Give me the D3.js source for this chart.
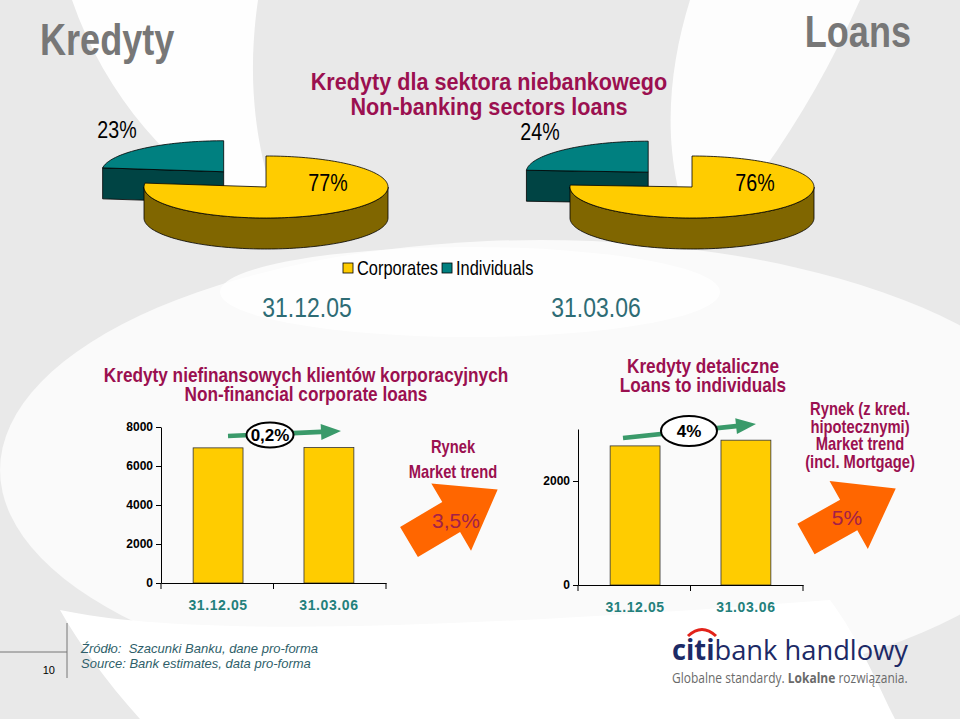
<!DOCTYPE html>
<html><head><meta charset="utf-8">
<script src="https://cdn.jsdelivr.net/npm/d3@7/dist/d3.min.js"></script>
<style>html,body{margin:0;padding:0;background:#fff}svg{display:block}</style>
</head><body>
<svg id="c" width="960" height="719"></svg>
<script>
// ---------- DATA ----------
const pieDates = ["31.12.05", "31.03.06"];
const pieCategories = ["Corporates", "Individuals"];
const pieShares2005 = [77, 23];
const pieShares2006 = [76, 24];
const barCategories = ["31.12.05", "31.03.06"];
const corporateLoans = [6930, 6945];
const individualLoans = [2675, 2785];
const corporateTicks = [0, 2000, 4000, 6000, 8000];
const individualTicks = [0, 2000];
const growthLabels = ["0,2%", "4%"];
const marketLabels = ["3,5%", "5%"];

// ---------- FONTS ----------
const ARIAL = "'Liberation Sans', Arial, sans-serif";
const NSCALE = 0.82; // emulate Arial Narrow by horizontal compression
const svg = d3.select("#c");
const MAROON = "#9b1050", DATE = "#2e6c75", XLAB = "#23807c", YEL = "#FFCC00", YEL_D = "#806600",
      TEAL = "#008080", TEAL_D = "#004444", GREEN = "#3a9a6a", ORANGE = "#FF6600";

function ntext(parent, x, y, str, o={}){
  const g = parent.append("g").attr("transform",`translate(${x},${y}) scale(${o.sx||NSCALE},1)`);
  const t = g.append("text").attr("x",0).attr("y",0).attr("font-family",ARIAL)
    .attr("font-size",o.size||16).attr("font-weight",o.weight||"normal").attr("fill",o.fill||"#000")
    .attr("text-anchor",o.anchor||"start").text(str);
  return t;
}

// ---------- BACKGROUND ----------
const bg = svg.append("g");
bg.append("rect").attr("width",960).attr("height",719).attr("fill","#e9e9e9");
bg.append("path").attr("fill","#fff").attr("opacity",0.95)
  .attr("d","M72,0 L258,0 C248,70 250,150 290,240 C190,190 110,110 72,0 Z");
bg.append("path").attr("fill","#fff").attr("opacity",0.9)
  .attr("d","M690,0 L860,0 C820,90 770,170 700,250 C660,170 665,80 690,0 Z");
bg.append("ellipse").attr("cx",540).attr("cy",470).attr("rx",540).attr("ry",230).attr("fill","#fff").attr("opacity",0.75);
bg.append("path").attr("fill","#fff")
  .attr("d","M60,610 C200,640 500,625 830,600 C860,640 880,690 895,719 L140,719 C105,680 80,645 60,610 Z");
bg.append("ellipse").attr("cx",470).attr("cy",292).attr("rx",250).attr("ry",45).attr("fill","#fff").attr("opacity",0.8);

// ---------- HEADINGS ----------
ntext(svg, 40, 55, "Kredyty", {size:44, weight:"bold", fill:"#777"});
ntext(svg, 911, 47, "Loans", {size:44, weight:"bold", fill:"#777", anchor:"end"});
ntext(svg, 489, 90, "Kredyty dla sektora niebankowego", {size:24, sx:0.9, weight:"bold", fill:MAROON, anchor:"middle"});
ntext(svg, 489, 115, "Non-banking sectors loans", {size:24, sx:0.9, weight:"bold", fill:MAROON, anchor:"middle"});

// ---------- 3D PIES ----------
const RX = 122, RY = 31, DEPTH = 31, EXPLODE = 64;
const pieGen = d3.pie().sort(null).value(d => d);
function pt(cx, cy, a, dy=0){ return [cx + RX*Math.sin(a), cy - RY*Math.cos(a) + dy]; }
function arcPts(cx, cy, a0, a1, dy=0){
  const n = Math.max(2, Math.ceil((a1-a0)/0.03)); const out=[];
  for(let i=0;i<=n;i++){ out.push(pt(cx,cy,a0+(a1-a0)*i/n,dy)); } return out;
}
const line = d3.line();
function draw3dPie(g, cx, cy, shares, labelOffsets){
  const arcs = pieGen(shares);
  const tops=[YEL, TEAL], sides=[YEL_D, TEAL_D];
  [1, 0].forEach(i => {
    const a = arcs[i];
    let ox=0, oy=0;
    if(i===1){ const m=(a.startAngle+a.endAngle)/2; ox=EXPLODE*Math.sin(m); oy=-EXPLODE*Math.cos(m)*RY/RX*1.25; }
    const x=cx+ox, y=cy+oy;
    const sg = g.append("g").attr("stroke","#000").attr("stroke-width",0.8).attr("stroke-linejoin","round");
    [[a.startAngle, Math.sin(a.startAngle) < -1e-6],[a.endAngle, Math.sin(a.endAngle) > 1e-6]].forEach(([ang,vis])=>{
      if(!vis) return;
      const r = pt(x,y,ang);
      sg.append("path").attr("fill",sides[i])
        .attr("d", line([[x,y],r,[r[0],r[1]+DEPTH],[x,y+DEPTH]])+"Z");
    });
    const s=Math.max(a.startAngle,Math.PI/2), e=Math.min(a.endAngle,3*Math.PI/2);
    if(s<e){
      const p = arcPts(x,y,s,e).concat(arcPts(x,y,s,e,DEPTH).reverse());
      sg.append("path").attr("fill",sides[i]).attr("d",line(p)+"Z");
    }
    sg.append("path").attr("fill",tops[i]).attr("d", line([[x,y]].concat(arcPts(x,y,a.startAngle,a.endAngle)))+"Z");
  });
  arcs.forEach((a,i)=>{
    ntext(g, cx+labelOffsets[i][0], cy+labelOffsets[i][1], a.data+"%", {size:24, anchor:"middle"});
  });
}
draw3dPie(svg.append("g"), 266, 187, pieShares2005, [[62,4],[-149,-49]]);
draw3dPie(svg.append("g"), 692, 187, pieShares2006, [[63,4],[-152,-47]]);

// legend
const lg = svg.append("g").attr("transform","translate(343,263)");
let lx = 0;
pieCategories.forEach((c,i)=>{
  lg.append("rect").attr("x",lx).attr("y",0).attr("width",10).attr("height",10).attr("fill",[YEL,TEAL][i]).attr("stroke","#000").attr("stroke-width",0.8);
  const tx = ntext(lg, lx+14, 12, c, {size:20});
  lx += 14 + tx.node().getComputedTextLength()*NSCALE + 4;
});
// pie dates
[[307,pieDates[0]],[596,pieDates[1]]].forEach(([x,t])=>{
  ntext(svg, x, 317, t, {size:28, fill:DATE, anchor:"middle"});
});

// ---------- BAR CHARTS ----------
function barChart(opt){
  const g = svg.append("g");
  const x = d3.scaleBand().domain(barCategories).range([opt.x0, opt.x1]).paddingInner(0.55).paddingOuter(0.29);
  const y = d3.scaleLinear().domain([0, opt.ymax]).range([opt.yb, opt.yt]);
  opt.title.forEach((l,i)=> ntext(g, opt.titleX, opt.titleY+i*19, l, {size:21, weight:"bold", fill:MAROON, anchor:"middle"}));
  // y axis
  const ya = g.append("g").attr("transform",`translate(${opt.x0},0)`)
    .call(d3.axisLeft(y).tickValues(opt.ticks).tickSize(5).tickSizeOuter(0).tickFormat(d3.format("d")));
  ya.select(".domain").attr("stroke","#000").attr("stroke-width",1);
  ya.selectAll(".tick line").attr("stroke","#000");
  ya.selectAll(".tick text").attr("font-family",ARIAL).attr("font-weight","bold").attr("font-size",12).attr("fill","#000").attr("x",-8);
  // bars
  g.selectAll("rect.bar").data(opt.values).join("rect").attr("class","bar")
    .attr("x",(d,i)=>x(barCategories[i])).attr("width",x.bandwidth())
    .attr("y",d=>y(d)).attr("height",d=>y(0)-y(d))
    .attr("fill",YEL).attr("stroke","#333").attr("stroke-width",0.8);
  // x axis
  const xa = g.append("g").attr("transform",`translate(0,${opt.yb})`)
    .call(d3.axisBottom(x).tickSize(0).tickPadding(17));
  xa.select(".domain").attr("stroke","#000").attr("stroke-width",1.2);
  xa.selectAll(".tick text").attr("font-family",ARIAL).attr("font-weight","bold").attr("font-size",14)
    .attr("letter-spacing",0.6).attr("fill",XLAB);
  const bounds = [opt.x0, (opt.x0+opt.x1)/2, opt.x1];
  xa.selectAll("line.bt").data(bounds).join("line").attr("class","bt")
    .attr("x1",d=>d).attr("x2",d=>d).attr("y1",0).attr("y2",6).attr("stroke","#000");
  // growth arrow
  const [gx0,gy0,gx1,gy1] = opt.green;
  const ang = Math.atan2(gy1-gy0, gx1-gx0);
  const L = Math.hypot(gx1-gx0, gy1-gy0);
  g.append("path").attr("transform",`translate(${gx0},${gy0}) rotate(${ang*180/Math.PI})`).attr("fill",GREEN)
    .attr("d",`M0,-2.3 L${L-20},-2.3 L${L-20},-8 L${L},0 L${L-20},8 L${L-20},2.3 L0,2.3 Z`);
  g.append("ellipse").attr("cx",opt.ell[0]).attr("cy",opt.ell[1]).attr("rx",opt.ell[2]).attr("ry",opt.ell[3])
    .attr("fill","#fff").attr("stroke","#000").attr("stroke-width",2);
  g.append("text").attr("x",opt.ell[0]).attr("y",opt.ell[1]+6).attr("text-anchor","middle").attr("font-family",ARIAL)
    .attr("font-weight","bold").attr("font-size",17).attr("fill","#000").text(opt.growth);
  opt.market.forEach((l,i)=> ntext(g, opt.marketX, opt.marketY+i*opt.marketDy, l, {size:18, weight:"bold", fill:MAROON, anchor:"middle"}));
  // orange arrow
  const [ox,oy,rot] = opt.orange;
  g.append("path").attr("transform",`translate(${ox},${oy}) rotate(${rot})`).attr("fill",ORANGE)
    .attr("d","M0,-17.5 L49,-17.5 L49,-39 L103,0 L49,39 L49,17.5 L0,17.5 Z");
  g.append("text").attr("x",opt.mlabel[0]).attr("y",opt.mlabel[1]).attr("text-anchor","middle").attr("font-family",ARIAL)
    .attr("font-size",21).attr("fill","#a3204a").text(opt.mtext);
}

barChart({x0:161, x1:386, yb:583, yt:427, ymax:8000, ticks:corporateTicks, values:corporateLoans,
  title:["Kredyty niefinansowych klientów korporacyjnych","Non-financial corporate loans"], titleX:306, titleY:382,
  green:[228,436,341,431], ell:[270,435,23.5,12.5], growth:growthLabels[0],
  market:["Rynek","Market trend"], marketX:453, marketY:453, marketDy:25,
  orange:[409,542,-30.6], mlabel:[456,528], mtext:marketLabels[0]});

barChart({x0:578, x1:803, yb:585, yt:429, ymax:3000, ticks:individualTicks, values:individualLoans,
  title:["Kredyty detaliczne","Loans to individuals"], titleX:703, titleY:373,
  green:[623,438,756,424], ell:[689,431,28,15], growth:growthLabels[1],
  market:["Rynek (z kred.","hipotecznymi)","Market trend","(incl. Mortgage)"], marketX:860, marketY:415, marketDy:17.5,
  orange:[806,539,-29.4], mlabel:[847,525], mtext:marketLabels[1]});

// ---------- FOOTER ----------
svg.append("line").attr("x1",67).attr("x2",67).attr("y1",623).attr("y2",678).attr("stroke","#777");
svg.append("line").attr("x1",0).attr("x2",67).attr("y1",652).attr("y2",652).attr("stroke","#777");
svg.append("text").attr("x",55).attr("y",674).attr("text-anchor","end").attr("font-family",ARIAL).attr("font-size",11).attr("fill","#000").text("10");
const src = svg.append("text").attr("font-family",ARIAL).attr("font-style","italic").attr("font-size",13).attr("fill","#2f5f6a");
src.append("tspan").attr("x",81).attr("y",653).attr("xml:space","preserve").text("Źródło:  Szacunki Banku, dane pro-forma");
src.append("tspan").attr("x",81).attr("y",668).text("Source: Bank estimates, data pro-forma");

// logo
const logo = svg.append("text").attr("x",672).attr("y",660).attr("font-family","'Open Sans', sans-serif").attr("font-size",28)
  .attr("fill","#1c2a66").attr("textLength",236).attr("lengthAdjust","spacingAndGlyphs");
logo.append("tspan").attr("font-weight","bold").text("citi");
logo.append("tspan").attr("font-weight","normal").text("bank handlowy");
svg.append("path").attr("d","M688,636 Q702,623 716,636").attr("fill","none").attr("stroke","#e2231a").attr("stroke-width",3);
const tagG = svg.append("g").attr("transform","translate(672,683) scale(0.8,1)");
const tag = tagG.append("text").attr("x",0).attr("y",0).attr("font-family","'Open Sans', sans-serif").attr("font-size",15).attr("fill","#6a6a6a");
tag.append("tspan").text("Globalne standardy. ");
tag.append("tspan").attr("font-weight","bold").text("Lokalne");
tag.append("tspan").text(" rozwiązania.");
</script>
</body></html>
